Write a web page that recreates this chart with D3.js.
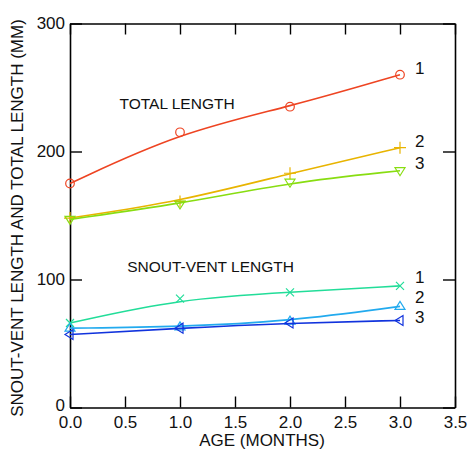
<!DOCTYPE html>
<html><head><meta charset="utf-8">
<script src="https://cdn.jsdelivr.net/npm/d3@7"></script>
<style>body{margin:0;background:#fff}svg{display:block}text{font-family:"Liberation Sans",Arial,sans-serif;fill:#111}</style>
</head><body><svg id="c" width="470" height="452"></svg>
<script>
const ages = [0, 1, 2, 3];
const xTicks = [0, 0.5, 1, 1.5, 2, 2.5, 3, 3.5];
const yTicks = [0, 100, 200, 300];
const total1 = [175, 215, 235, 260];
const total2 = [148, 161, 183, 203];
const total3 = [147, 159, 176, 185];
const svl1 = [66, 85, 90, 95];
const svl2 = [62, 63, 67.5, 79];
const svl3 = [57, 62, 66, 68];
const seriesNames = ["total1","total2","total3","svl1","svl2","svl3"];
const seriesLabels = ["1","2","3","1","2","3"];
const labelValues = [265, 208, 191, 102, 86, 71];
const colors = ["#ee4422","#e8b400","#88dd11","#22dd99","#22aaee","#1133dd"];
const markers = ["circle","plus","tridown","cross","triup","trileft"];
const groupTitles = ["TOTAL LENGTH","SNOUT-VENT LENGTH"];
const groupTitleAt = [[0.45, 233],[0.52, 106]];

const data = {total1,total2,total3,svl1,svl2,svl3};
const svg = d3.select("#c");
const x = d3.scaleLinear().domain([0,3.5]).range([70,455]);
const y = d3.scaleLinear().domain([0,300]).range([407.5,23.5]);

const g = svg.append("g");
g.append("g").attr("transform","translate(0,407.5)").call(d3.axisBottom(x).tickValues(xTicks).tickFormat(d3.format(".1f")).tickSizeInner(-11).tickSizeOuter(0).tickPadding(8));
g.append("g").attr("transform","translate(0,23.5)").call(d3.axisTop(x).tickValues(xTicks).tickFormat("").tickSizeInner(-11).tickSizeOuter(0));
const ya = g.append("g").attr("transform","translate(70,0)").call(d3.axisLeft(y).tickValues(yTicks).tickSizeInner(-12).tickSizeOuter(0).tickPadding(5));
g.append("g").attr("transform","translate(455,0)").call(d3.axisRight(y).tickValues(yTicks).tickFormat("").tickSizeInner(-12).tickSizeOuter(0));
g.selectAll(".domain").attr("stroke","#000").attr("stroke-width",1.6);
g.selectAll(".tick line").attr("stroke","#000").attr("stroke-width",1.4);
g.selectAll(".tick text").style("font-size","17px").attr("fill","#111");
ya.selectAll(".tick text").filter(d=>d===0).attr("dy","0.2em");

svg.append("text").attr("x",262).attr("y",446).attr("text-anchor","middle").style("font-size","17px").text("AGE (MONTHS)");
svg.append("text").attr("transform","translate(23,218) rotate(-90)").attr("text-anchor","middle").style("font-size","17px").text("SNOUT-VENT LENGTH AND TOTAL LENGTH (MM)");

groupTitles.forEach((t,i)=>{
  svg.append("text").attr("x",x(groupTitleAt[i][0])).attr("y",y(groupTitleAt[i][1])).style("font-size","15.5px").text(t);
});

const line = d3.line().x((d,i)=>x(ages[i])).y(d=>y(d)).curve(d3.curveBasis);
seriesNames.forEach((n,k)=>{
  const vals = data[n];
  const c = colors[k];
  svg.append("path").attr("d",line(vals)).attr("fill","none").attr("stroke",c).attr("stroke-width",1.6);
  const mg = svg.append("g").attr("fill","none").attr("stroke",c).attr("stroke-width",1.2);
  vals.forEach((v,i)=>{
    const px = x(ages[i]), py = y(v);
    const m = markers[k];
    if (m==="circle") mg.append("circle").attr("cx",px).attr("cy",py).attr("r",4.3);
    else if (m==="plus") mg.append("path").attr("d",`M${px-6},${py}H${px+6}M${px},${py-6}V${py+6}`);
    else if (m==="cross") mg.append("path").attr("d",`M${px-4},${py-4}L${px+4},${py+4}M${px-4},${py+4}L${px+4},${py-4}`);
    else {
      const s = 5;
      let pts;
      if (m==="tridown") pts=[[px-s,py-s*0.6],[px+s,py-s*0.6],[px,py+s]];
      else if (m==="triup") pts=[[px-s,py+s*0.6],[px+s,py+s*0.6],[px,py-s]];
      else pts=[[px+s*0.6,py-s],[px+s*0.6,py+s],[px-s,py]];
      mg.append("path").attr("d","M"+pts.map(p=>p.join(",")).join("L")+"Z");
    }
  });
  svg.append("text").attr("x",x(3)+15).attr("y",y(labelValues[k])).attr("dy","0.35em").style("font-size","17px").text(seriesLabels[k]);
});
</script></body></html>
